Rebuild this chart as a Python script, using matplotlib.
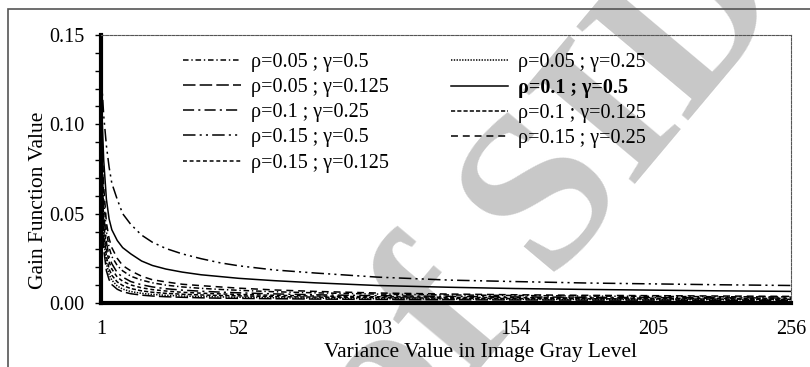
import matplotlib
matplotlib.use("Agg")
import matplotlib.pyplot as plt
from matplotlib.patches import Rectangle
from matplotlib.ticker import MultipleLocator, FixedLocator, FormatStrFormatter

variance = [1, 2, 3, 4, 5, 7, 9, 12, 16, 20, 25, 31, 38, 45, 52, 65, 80, 103, 130, 154, 180, 205, 230, 256]

# gain values per (rho, gamma)
g_005_05 = [0.100, 0.058, 0.040, 0.031, 0.026, 0.021, 0.018, 0.015, 0.0128, 0.0113, 0.0100, 0.0090,
            0.0082, 0.0076, 0.0071, 0.0063, 0.0057, 0.0050, 0.0045, 0.0042, 0.0039, 0.0037, 0.0035, 0.0034]
g_005_025 = [0.080, 0.036, 0.022, 0.016, 0.0128, 0.0095, 0.0078, 0.0064, 0.0054, 0.0048, 0.0043, 0.0039,
             0.0036, 0.0034, 0.0032, 0.0029, 0.0027, 0.0024, 0.0022, 0.0021, 0.0020, 0.0019, 0.0018, 0.0018]
g_005_0125 = [0.075, 0.030, 0.018, 0.013, 0.0103, 0.0077, 0.0063, 0.0052, 0.0044, 0.0039, 0.0035, 0.0032,
              0.0029, 0.0027, 0.0026, 0.0024, 0.0022, 0.0020, 0.0018, 0.0017, 0.0016, 0.0016, 0.0015, 0.0015]
g_01_05 = [0.120, 0.080, 0.058, 0.047, 0.041, 0.035, 0.031, 0.0275, 0.0235, 0.021, 0.019, 0.0173,
           0.0158, 0.0148, 0.0138, 0.0125, 0.0113, 0.0098, 0.0088, 0.0081, 0.0076, 0.0072, 0.0068, 0.0065]
g_01_025 = [0.095, 0.050, 0.034, 0.026, 0.022, 0.017, 0.0145, 0.012, 0.0102, 0.0090, 0.0080, 0.0072,
            0.0066, 0.0061, 0.0057, 0.0051, 0.0046, 0.0041, 0.0037, 0.0034, 0.0032, 0.0030, 0.0029, 0.0028]
g_01_0125 = [0.085, 0.040, 0.026, 0.019, 0.0155, 0.0118, 0.0098, 0.0081, 0.0068, 0.0060, 0.0054, 0.0049,
             0.0045, 0.0042, 0.0040, 0.0036, 0.0033, 0.0030, 0.0027, 0.0025, 0.0024, 0.0023, 0.0022, 0.0021]
g_015_05 = [0.130, 0.105, 0.088, 0.076, 0.067, 0.058, 0.050, 0.044, 0.038, 0.034, 0.0305, 0.0275,
            0.0248, 0.0225, 0.0208, 0.0185, 0.0168, 0.0145, 0.0128, 0.0120, 0.0112, 0.0107, 0.0102, 0.0098]
g_015_025 = [0.110, 0.065, 0.045, 0.036, 0.031, 0.025, 0.021, 0.018, 0.015, 0.013, 0.0118, 0.0105,
             0.0097, 0.0090, 0.0083, 0.0073, 0.0065, 0.0056, 0.0050, 0.0046, 0.0043, 0.0041, 0.0039, 0.0037]
g_015_0125 = [0.090, 0.045, 0.030, 0.023, 0.019, 0.0145, 0.0122, 0.0101, 0.0085, 0.0075, 0.0067, 0.0060,
              0.0055, 0.0051, 0.0048, 0.0043, 0.0039, 0.0035, 0.0032, 0.0030, 0.0028, 0.0027, 0.0026, 0.0025]

labels = ["ρ=0.05 ; γ=0.5", "ρ=0.05 ; γ=0.25", "ρ=0.05 ; γ=0.125",
          "ρ=0.1 ; γ=0.5", "ρ=0.1 ; γ=0.25", "ρ=0.1 ; γ=0.125",
          "ρ=0.15 ; γ=0.5", "ρ=0.15 ; γ=0.25", "ρ=0.15 ; γ=0.125"]
series = [g_005_05, g_005_025, g_005_0125, g_01_05, g_01_025, g_01_0125, g_015_05, g_015_025, g_015_0125]
styles = [(0, (4, 2, 1, 2)), (0, (1, 1)), (0, (9, 3)),
          "-", (0, (8, 3, 1.5, 3)), (0, (3, 1.5)),
          (0, (9, 3, 1.5, 3, 1.5, 3)), (0, (5, 3.5)), (0, (2.8, 2))]

xticks = [1, 52, 103, 154, 205, 256]

plt.rcParams["font.family"] = ["Liberation Serif", "DejaVu Serif"]
plt.rcParams["lines.scale_dashes"] = False

fig = plt.figure(figsize=(8.1, 3.67), dpi=100)
ax = fig.add_axes([101 / 810, 1 - 303 / 367, 690 / 810, 268 / 367])
ax.set_facecolor("none")

# outer chart border (runs off the right and bottom edge)
fig.patches.append(Rectangle((8 / 810, -0.2), 1.2, 1.2 - 9 / 367,
                             transform=fig.transFigure, fill=False,
                             edgecolor="#555555", lw=1.2, clip_on=False))

# watermark
fig.text(0.828, 1.272, "Archive of SID", fontsize=160, fontweight="bold", color="#c8c8c8",
         rotation=50, rotation_mode="anchor", ha="right", va="top",
         zorder=-5)

lines = []
for y, lab, ls in zip(series, labels, styles):
    ln, = ax.plot(variance, y, color="black", lw=1.1, linestyle=ls, label=lab)
    lines.append(ln)

ax.set_xlim(1, 256)
ax.set_ylim(0, 0.15)
ax.xaxis.set_major_locator(FixedLocator(xticks))
ax.yaxis.set_major_locator(MultipleLocator(0.05))
ax.yaxis.set_minor_locator(MultipleLocator(0.01))
ax.yaxis.set_major_formatter(FormatStrFormatter("%.2f"))

ax.tick_params(axis="x", length=0, pad=12, labelsize=14.5)
ax.tick_params(axis="y", which="both", direction="out", length=4, width=1, pad=8, labelsize=14.5)

for s in ["left", "bottom"]:
    ax.spines[s].set_linewidth(3)
    ax.spines[s].set_color("black")
for s in ["top", "right"]:
    ax.spines[s].set_linewidth(0.8)
    ax.spines[s].set_linestyle((0, (2, 1)))
    ax.spines[s].set_color("#555555")

ax.set_xlabel("Variance Value in Image Gray Level", fontsize=15.5)
ax.xaxis.set_label_coords((480 - 101) / 690, -(343 - 303) / 268)
ax.set_ylabel("Gain Function Value", fontsize=15.5)
ax.yaxis.set_label_coords(-(101 - 48) / 690, (303 - 200) / 268)

# legend reads row by row like the original, so reorder for column filling
order = [0, 2, 4, 6, 8, 1, 3, 5, 7]
leg = ax.legend([lines[i] for i in order], [labels[i] for i in order],
                ncol=2, loc="upper left", bbox_to_anchor=(0.119, 0.933),
                frameon=False, fontsize=14.5, handlelength=2.85, handletextpad=0.5,
                columnspacing=3.1, labelspacing=0.3, borderaxespad=0, borderpad=0)
for t in leg.get_texts():
    if t.get_text() == "ρ=0.1 ; γ=0.5":
        t.set_fontweight("bold")

fig.savefig("out.png", dpi=100)
